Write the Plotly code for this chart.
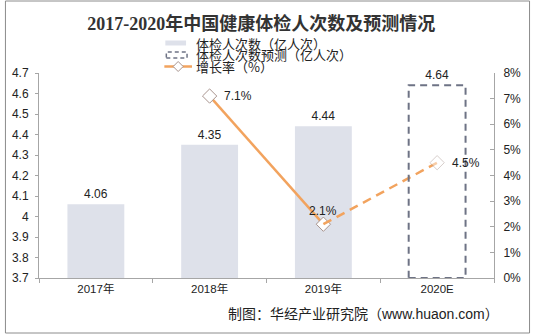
import plotly.graph_objects as go

# ---- data ----
categories = ["2017年", "2018年", "2019年", "2020E"]
actual_years = ["2017年", "2018年", "2019年"]
actual_values = [4.06, 4.35, 4.44]
forecast_years = ["2020E"]
forecast_values = [4.64]
growth_solid_x = ["2018年", "2019年"]
growth_solid_y = [7.1, 2.1]
growth_dash_x = ["2019年", "2020E"]
growth_dash_y = [2.1, 4.5]

title_text = "2017-2020年中国健康体检人次数及预测情况"
legend_labels = ["体检人次数（亿人次）", "体检人次数预测（亿人次）", "增长率（%）"]
source_text = "制图：华经产业研究院（www.huaon.com）"

W, H = 533, 335
L, R, T, B = 35, 37, 73, 57
PW, PH = W - L - R, H - T - B

def px(x):
    return (x - L) / PW

def py(y):
    return (H - B - y) / PH

BAR = "#DEE1EA"
ORANGE = "#F2A35E"
DASHBOX = "#6E7385"
MK_LINE = "#A8948E"
TXT = "#222222"
AX = "#A6A6A6"
LBL_FONT = dict(family="Liberation Sans, Arial", size=12, color=TXT)

fig = go.Figure()

fig.add_trace(go.Bar(
    x=actual_years, y=actual_values, width=0.5,
    marker=dict(color=BAR, line=dict(width=0)),
    text=[f"{v:.2f}" for v in actual_values], textposition="outside",
    textfont=LBL_FONT, cliponaxis=False, showlegend=False, name=legend_labels[0],
))
fig.add_trace(go.Bar(
    x=forecast_years, y=forecast_values, width=0.5,
    marker=dict(color="rgba(0,0,0,0)", line=dict(width=0)),
    text=[f"{v:.2f}" for v in forecast_values], textposition="outside",
    textfont=LBL_FONT, cliponaxis=False, showlegend=False, name=legend_labels[1],
))

fig.add_trace(go.Scatter(
    x=growth_solid_x, y=growth_solid_y, yaxis="y2", mode="lines+markers",
    line=dict(color=ORANGE, width=2.5),
    marker=dict(symbol="diamond", size=11, color="white", line=dict(color=MK_LINE, width=1)),
    cliponaxis=False, showlegend=False, name=legend_labels[2],
))
fig.add_trace(go.Scatter(
    x=growth_dash_x, y=growth_dash_y, yaxis="y2", mode="lines+markers",
    line=dict(color=ORANGE, width=2.5, dash="9px,6px"),
    marker=dict(symbol="diamond", size=11, color="white",
                line=dict(color=MK_LINE, width=1), opacity=[0, 0.45]),
    cliponaxis=False, showlegend=False, name=legend_labels[2],
))

shapes = []
fi = categories.index(forecast_years[0])
shapes.append(dict(type="rect", xref="x", yref="y",
                   x0=fi - 0.25, x1=fi + 0.25, y0=3.7, y1=forecast_values[0],
                   line=dict(color=DASHBOX, width=2, dash="7px,5px"),
                   fillcolor="rgba(0,0,0,0)", layer="above"))
shapes.append(dict(type="rect", xref="paper", yref="paper",
                   x0=px(1), x1=px(532), y0=py(333), y1=py(1),
                   line=dict(color="#8C8C8C", width=1), layer="below"))
shapes.append(dict(type="rect", xref="paper", yref="paper",
                   x0=px(163), x1=px(184), y0=py(45.5), y1=py(40.5),
                   line=dict(width=0), fillcolor=BAR))
shapes.append(dict(type="rect", xref="paper", yref="paper",
                   x0=px(164), x1=px(185), y0=py(58), y1=py(52),
                   line=dict(color=DASHBOX, width=1.5, dash="4px,3px"),
                   fillcolor="rgba(0,0,0,0)"))
shapes.append(dict(type="line", xref="paper", yref="paper",
                   x0=px(162), x1=px(190), y0=py(66.5), y1=py(66.5),
                   line=dict(color=ORANGE, width=2.5)))
shapes.append(dict(type="path", xref="paper", yref="paper",
                   xsizemode="pixel", ysizemode="pixel",
                   xanchor=px(176), yanchor=py(66.5),
                   path="M 0,5 L 5,0 L 0,-5 L -5,0 Z",
                   fillcolor="white", line=dict(color=MK_LINE, width=1)))

annotations = []
annotations.append(dict(x=growth_solid_x[0], y=growth_solid_y[0], xref="x", yref="y2",
                        text=f"{growth_solid_y[0]}%", showarrow=False, xanchor="left",
                        yanchor="middle", xshift=12, font=LBL_FONT))
annotations.append(dict(x=growth_solid_x[1], y=growth_solid_y[1], xref="x", yref="y2",
                        text=f"{growth_solid_y[1]}%", showarrow=False, xanchor="center",
                        yanchor="bottom", yshift=4, font=LBL_FONT))
annotations.append(dict(x=growth_dash_x[1], y=growth_dash_y[1], xref="x", yref="y2",
                        text=f"{growth_dash_y[1]}%", showarrow=False, xanchor="left",
                        yanchor="middle", xshift=13, font=LBL_FONT))
for i, lab in enumerate(legend_labels):
    annotations.append(dict(xref="paper", yref="paper", x=px(192), y=py([43, 55, 66.5][i]),
                            xanchor="left", yanchor="middle", showarrow=False,
                            text=lab, font=dict(family="Noto Sans CJK SC", size=13, color=TXT)))
annotations.append(dict(xref="paper", yref="paper", x=px(503), y=py(314),
                        xanchor="right", yanchor="middle", showarrow=False,
                        text=source_text,
                        font=dict(family="Liberation Sans, Noto Sans CJK SC", size=14, color=TXT)))

fig.update_layout(
    width=W, height=H,
    margin=dict(l=L, r=R, t=T, b=B, pad=0),
    paper_bgcolor="white", plot_bgcolor="white",
    barmode="overlay",
    title=dict(text=f"<b>{title_text}</b>", x=0.49, xanchor="center",
               y=1 - 24 / H, yanchor="middle",
               font=dict(family="Liberation Serif, Noto Sans CJK SC", size=18, color="#333333")),
    xaxis=dict(type="category", categoryorder="array", categoryarray=categories,
               range=[-0.5, 3.5], showline=True, linecolor=AX, linewidth=1,
               ticks="outside", tickson="boundaries", ticklen=4, tickcolor=AX,
               tickfont=dict(family="Liberation Sans, Noto Sans CJK SC", size=11.5, color=TXT),
               showgrid=False, zeroline=False),
    yaxis=dict(range=[3.7, 4.7], dtick=0.1, tick0=3.7, showline=True, linecolor=AX,
               linewidth=1, ticks="outside", ticklen=3, tickcolor=AX,
               tickfont=dict(family="Liberation Sans, Arial", size=12, color=TXT),
               ticklabelstandoff=4, showgrid=False, zeroline=False),
    yaxis2=dict(range=[0, 8], dtick=1, overlaying="y", side="right", ticksuffix="%",
                showline=True, linecolor=AX, linewidth=1, ticks="inside", ticklen=4,
                tickcolor=AX,
                tickfont=dict(family="Liberation Sans, Arial", size=12, color=TXT),
                ticklabelstandoff=6, showgrid=False, zeroline=False),
    shapes=shapes, annotations=annotations,
    showlegend=False,
)

fig.write_html("out.html")
